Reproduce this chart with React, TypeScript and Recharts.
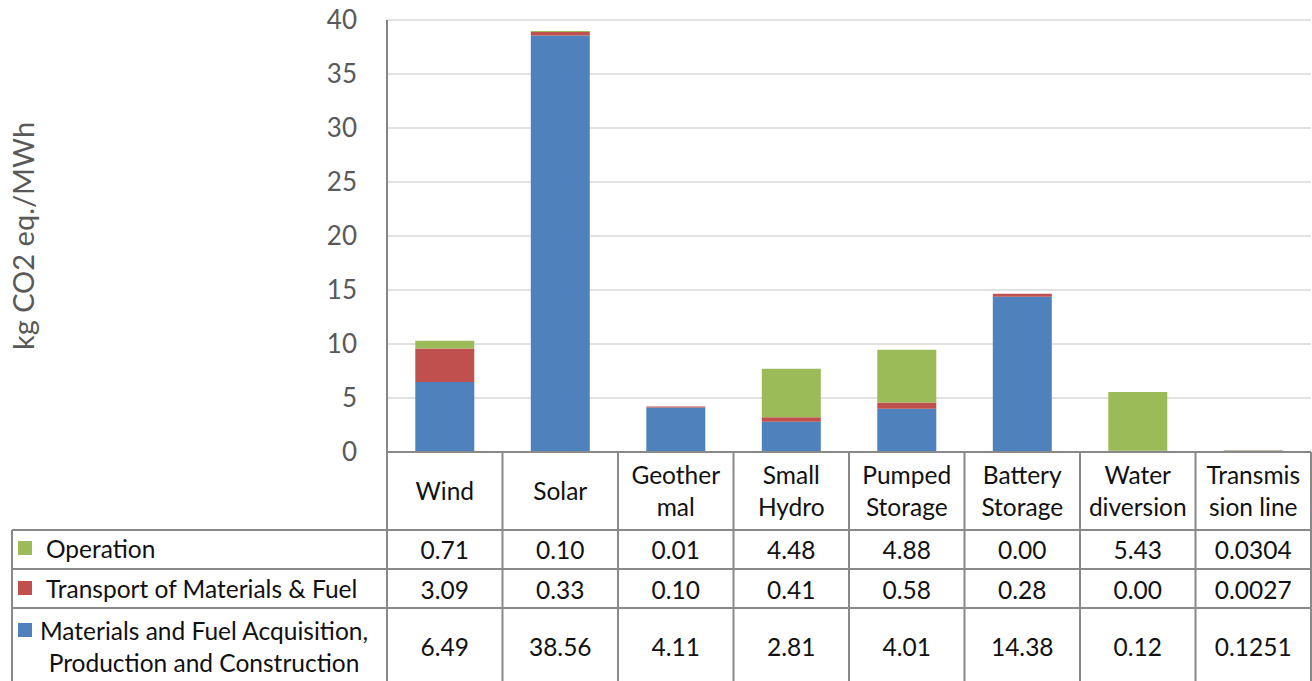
import React from 'react';
import { BarChart, Bar, XAxis, YAxis, CartesianGrid } from 'recharts';

const categories = ['Wind', 'Solar', 'Geothermal', 'Small Hydro', 'Pumped Storage', 'Battery Storage', 'Water diversion', 'Transmission line'];
const headerLines = [['Wind'], ['Solar'], ['Geother', 'mal'], ['Small', 'Hydro'], ['Pumped', 'Storage'], ['Battery', 'Storage'], ['Water', 'diversion'], ['Transmis', 'sion line']];
const operation = [0.71, 0.10, 0.01, 4.48, 4.88, 0.00, 5.43, 0.0304];
const transport = [3.09, 0.33, 0.10, 0.41, 0.58, 0.28, 0.00, 0.0027];
const materials = [6.49, 38.56, 4.11, 2.81, 4.01, 14.38, 0.12, 0.1251];
const decimals = [2, 2, 2, 2, 2, 2, 2, 4];
const yTicks = [0, 5, 10, 15, 20, 25, 30, 35, 40];

const seriesNames = {
  operation: 'Operation',
  transport: 'Transport of Materials & Fuel',
  materials: ['Materials and Fuel Acquisition,', 'Production and Construction'],
};
const COLORS = { materials: '#4F81BD', transport: '#C0504D', operation: '#9BBB59' };

const data = categories.map((c, i) => ({
  name: c,
  materials: materials[i],
  transport: transport[i],
  operation: operation[i],
}));

const W = 1312;
const H = 681;
const plotLeft = 387;
const plotRight = 1311;
const plotTop = 20;
const plotBottom = 452;
const tableLeft = 12;
const rowLines = [530, 569, 608];
const FONT = 'Lato, "Open Sans", sans-serif';
const GRID = '#898989';

function Table() {
  const colW = (plotRight - plotLeft) / categories.length;
  const cx = (i: number) => plotLeft + colW * (i + 0.5);
  const fs = 24.5;
  const rows = [
    { vals: operation, y: 549 },
    { vals: transport, y: 589 },
    { vals: materials, y: 646 },
  ];
  return (
    <svg width={W} height={H} style={{ position: 'absolute', left: 0, top: 0, pointerEvents: 'none' }} fontFamily={FONT}>
      <line x1={plotLeft} x2={plotRight} y1={plotBottom} y2={plotBottom} stroke={GRID} strokeWidth={2} />
      {rowLines.map((y) => (
        <line key={y} x1={tableLeft} x2={plotRight} y1={y} y2={y} stroke={GRID} strokeWidth={2} />
      ))}
      <line x1={tableLeft} x2={tableLeft} y1={rowLines[0]} y2={H} stroke={GRID} strokeWidth={2} />
      {Array.from({ length: categories.length + 1 }, (_, i) => (
        <line key={i} x1={plotLeft + colW * i} x2={plotLeft + colW * i} y1={plotBottom} y2={H} stroke={GRID} strokeWidth={2} />
      ))}
      {headerLines.map((lines, i) =>
        lines.length === 1 ? (
          <text key={i} x={cx(i)} y={490} textAnchor="middle" dominantBaseline="central" fontSize={fs} fill="#111">{lines[0]}</text>
        ) : (
          <text key={i} x={cx(i)} textAnchor="middle" fontSize={fs} fill="#111">
            <tspan x={cx(i)} y={474} dominantBaseline="central">{lines[0]}</tspan>
            <tspan x={cx(i)} y={506} dominantBaseline="central">{lines[1]}</tspan>
          </text>
        )
      )}
      {rows.map((r, ri) =>
        r.vals.map((v, i) => (
          <text key={ri + '-' + i} x={cx(i)} y={r.y} textAnchor="middle" dominantBaseline="central" fontSize={fs} fill="#111">
            {v.toFixed(decimals[i])}
          </text>
        ))
      )}
      <rect x={18} y={541} width={14} height={14} fill={COLORS.operation} />
      <text x={46} y={548} dominantBaseline="central" fontSize={fs} fill="#111">{seriesNames.operation}</text>
      <rect x={18} y={581} width={14} height={14} fill={COLORS.transport} />
      <text x={46} y={588} dominantBaseline="central" fontSize={fs} fill="#111">{seriesNames.transport}</text>
      <rect x={18} y={623} width={14} height={14} fill={COLORS.materials} />
      <text x={204} textAnchor="middle" fontSize={fs} fill="#111">
        <tspan x={204} y={630} dominantBaseline="central">{seriesNames.materials[0]}</tspan>
        <tspan x={204} y={662} dominantBaseline="central">{seriesNames.materials[1]}</tspan>
      </text>
    </svg>
  );
}

const YLabel = () => (
  <text x={22} y={236} transform="rotate(-90 22 236)" textAnchor="middle" dominantBaseline="central" fontSize={29} fill="#595959" fontFamily={FONT}>
    kg CO2 eq./MWh
  </text>
);

export default function App() {
  return (
    <div style={{ position: 'absolute', left: 0, top: 0, width: W, height: H, background: '#fff', fontFamily: FONT }}>
      <BarChart
        width={W}
        height={H}
        data={data}
        margin={{ top: plotTop, right: W - plotRight, left: 0, bottom: H - plotBottom }}
        barCategoryGap="24.5%"
      >
        <CartesianGrid vertical={false} stroke="#D9D9D9" strokeWidth={1.5} />
        <XAxis dataKey="name" hide />
        <YAxis
          width={plotLeft}
          domain={[0, 40]}
          ticks={yTicks}
          interval={0}
          tickSize={0}
          tickMargin={30}
          tickLine={false}
          axisLine={{ stroke: '#868686', strokeWidth: 2 }}
          tick={{ fontSize: 26, fill: '#595959', fontFamily: FONT }}
          label={<YLabel />}
        />
        <Bar dataKey="materials" stackId="a" fill={COLORS.materials} isAnimationActive={false} />
        <Bar dataKey="transport" stackId="a" fill={COLORS.transport} isAnimationActive={false} />
        <Bar dataKey="operation" stackId="a" fill={COLORS.operation} isAnimationActive={false} />
      </BarChart>
      <Table />
    </div>
  );
}
